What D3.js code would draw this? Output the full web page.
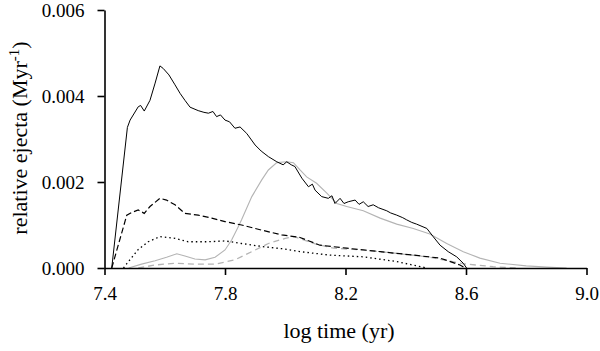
<!DOCTYPE html>
<html>
<head>
<meta charset="utf-8">
<script src="https://cdn.jsdelivr.net/npm/d3@7"></script>
<style>
  html, body { margin: 0; padding: 0; background: #fff; }
  svg { display: block; }
</style>
</head>
<body>
<svg id="chart" width="600" height="351" font-family="Liberation Serif"></svg>
<script>
// ---- data ----
const xTicks = [7.4, 7.8, 8.2, 8.6, 9.0];
const yTicks = [0.000, 0.002, 0.004, 0.006];

// black solid
const totalX = [7.424, 7.476, 7.485, 7.512, 7.52, 7.532, 7.551, 7.568, 7.584, 7.595, 7.614, 7.634, 7.651, 7.667, 7.684, 7.711, 7.73, 7.745, 7.76, 7.772, 7.785, 7.8, 7.815, 7.833, 7.85, 7.872, 7.9, 7.92, 7.944, 7.972, 7.993, 8.005, 8.02, 8.032, 8.055, 8.077, 8.09, 8.099, 8.121, 8.143, 8.155, 8.165, 8.182, 8.195, 8.209, 8.232, 8.245, 8.259, 8.275, 8.292, 8.31, 8.337, 8.35, 8.37, 8.39, 8.403, 8.42, 8.436, 8.47, 8.491, 8.514, 8.541, 8.569, 8.591, 8.602];
const totalY = [0.0000, 0.00327, 0.00344, 0.00375, 0.00378, 0.00365, 0.0039, 0.0043, 0.0047, 0.00464, 0.00449, 0.00426, 0.00406, 0.0039, 0.00374, 0.00366, 0.00362, 0.0036, 0.00364, 0.00352, 0.00356, 0.00344, 0.00340, 0.00325, 0.00328, 0.00313, 0.00286, 0.00272, 0.00259, 0.00247, 0.0024, 0.00247, 0.00240, 0.00236, 0.00209, 0.00189, 0.00195, 0.00181, 0.00166, 0.00162, 0.00168, 0.0015, 0.00162, 0.00150, 0.00154, 0.00158, 0.00148, 0.00154, 0.00143, 0.00147, 0.00140, 0.00133, 0.00128, 0.00123, 0.00117, 0.00112, 0.00106, 0.00102, 0.00092, 0.00073, 0.00053, 0.00038, 0.00026, 0.00011, 0.0000];

// black dashed
const dashX = [7.424, 7.474, 7.49, 7.512, 7.532, 7.551, 7.584, 7.606, 7.634, 7.667, 7.711, 7.756, 7.8, 7.855, 7.922, 7.988, 8.03, 8.049, 8.115, 8.204, 8.315, 8.425, 8.514, 8.58, 8.597];
const dashY = [0.0000, 0.00123, 0.00129, 0.00135, 0.00127, 0.00143, 0.00162, 0.00158, 0.00147, 0.00127, 0.00123, 0.00116, 0.00108, 0.0010, 0.00088, 0.00077, 0.00073, 0.00071, 0.00053, 0.00046, 0.00038, 0.0003, 0.00023, 0.00007, 0.0000];

// black dotted
const dotX = [7.463, 7.474, 7.512, 7.545, 7.584, 7.634, 7.678, 7.745, 7.8, 7.855, 7.922, 7.988, 8.049, 8.148, 8.259, 8.37, 8.436, 8.47];
const dotY = [0.0000, 0.0001, 0.00043, 0.00061, 0.00073, 0.00069, 0.00061, 0.00061, 0.00063, 0.00057, 0.0005, 0.00045, 0.00038, 0.0003, 0.00026, 0.00015, 0.00005, 0.0000];

// gray solid
const graySolidX = [7.48, 7.523, 7.568, 7.606, 7.64, 7.667, 7.7, 7.734, 7.767, 7.8, 7.822, 7.844, 7.855, 7.889, 7.922, 7.944, 7.972, 8.005, 8.027, 8.049, 8.071, 8.104, 8.138, 8.171, 8.204, 8.259, 8.315, 8.37, 8.425, 8.48, 8.536, 8.591, 8.646, 8.713, 8.8, 8.868, 8.934];
const graySolidY = [0.0000, 0.00009, 0.00017, 0.00025, 0.00033, 0.00028, 0.00021, 0.00019, 0.00025, 0.00042, 0.00065, 0.00096, 0.00112, 0.00166, 0.00205, 0.00228, 0.00245, 0.00247, 0.00245, 0.00228, 0.00212, 0.00197, 0.00174, 0.0015, 0.00143, 0.00133, 0.00116, 0.00102, 0.00092, 0.00079, 0.00057, 0.00038, 0.00023, 0.00011, 0.00005, 0.00002, 0.0000];

// gray dashed
const grayDashX = [7.512, 7.568, 7.634, 7.7, 7.767, 7.833, 7.889, 7.944, 8.0, 8.03, 8.1, 8.16, 8.26, 8.37, 8.48, 8.59, 8.69, 8.77];
const grayDashY = [0.0000, 0.00007, 0.00011, 0.00009, 0.00009, 0.00019, 0.00038, 0.00057, 0.00069, 0.00073, 0.00056, 0.00046, 0.00042, 0.00034, 0.00025, 0.0001, 0.00003, 0.0000];

// ---- drawing ----
const FONT = "Liberation Serif";
const svg = d3.select("#chart");
const x = d3.scaleLinear().domain([7.4, 9.0]).range([104.5, 586.5]);
const y = d3.scaleLinear().domain([0, 0.006]).range([268, 10]);

const line = d3.line().x(d => x(d[0])).y(d => y(d[1]));
const zipXY = (xs, ys) => xs.map((v, i) => [v, ys[i]]);

const series = [
  { xs: graySolidX, ys: graySolidY, color: "#b4b4b4", dash: null, w: 1.1 },
  { xs: grayDashX, ys: grayDashY, color: "#b4b4b4", dash: "6,4", w: 1.3 },
  { xs: dotX, ys: dotY, color: "#000", dash: "1.5,3", w: 1.3 },
  { xs: dashX, ys: dashY, color: "#000", dash: "6,3", w: 1.2 },
  { xs: totalX, ys: totalY, color: "#000", dash: null, w: 1.0 }
];

svg.append("g").selectAll("path")
  .data(series)
  .join("path")
  .attr("d", s => line(zipXY(s.xs, s.ys)))
  .attr("fill", "none")
  .attr("stroke", s => s.color)
  .attr("stroke-width", s => s.w)
  .attr("stroke-dasharray", s => s.dash);

// axes
const xAxis = d3.axisBottom(x).tickValues(xTicks).tickFormat(d3.format(".1f"))
  .tickSize(7).tickSizeOuter(0).tickPadding(12);
const yAxis = d3.axisLeft(y).tickValues(yTicks).tickFormat(d3.format(".3f"))
  .tickSize(7).tickSizeOuter(0).tickPadding(13);

const gx = svg.append("g").attr("transform", "translate(0,268)").call(xAxis);
const gy = svg.append("g").attr("transform", "translate(104.5,0)").call(yAxis);

[gx, gy].forEach(g => {
  g.attr("font-family", null).attr("font-size", null);
  g.select(".domain").attr("stroke", "#000").attr("stroke-width", 1.6);
  g.selectAll(".tick line").attr("stroke", "#000").attr("stroke-width", 1.6);
  g.selectAll(".tick text")
    .attr("font-family", FONT)
    .style("font-family", FONT)
    .attr("font-size", 19)
    .attr("fill", "#000");
});

// axis titles
svg.append("text")
  .attr("x", 339).attr("y", 338)
  .attr("text-anchor", "middle")
  .attr("font-family", FONT)
  .attr("font-size", 22)
  .attr("fill", "#000")
  .text("log time (yr)");

const yl = svg.append("text")
  .attr("transform", "translate(27,138) rotate(-90)")
  .attr("text-anchor", "middle")
  .attr("font-family", FONT)
  .attr("font-size", 22)
  .attr("fill", "#000");
yl.append("tspan").text("relative ejecta (Myr");
yl.append("tspan").attr("dy", -8).attr("font-size", 15).text("-1");
yl.append("tspan").attr("dy", 8).text(")");
</script>
</body>
</html>
